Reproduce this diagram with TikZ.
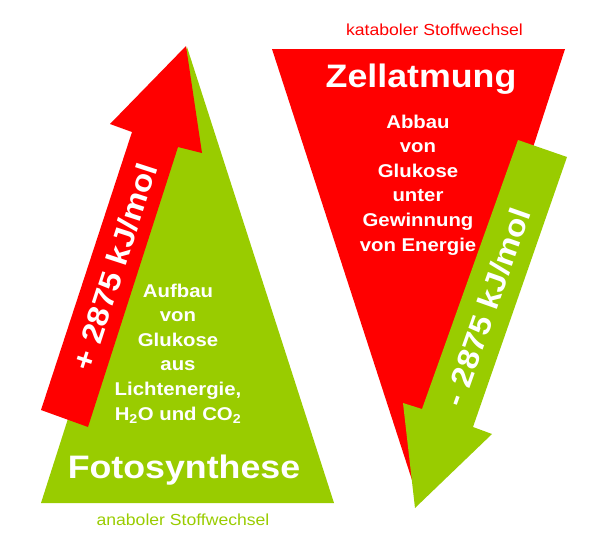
\documentclass[tikz,border=0pt]{standalone}
\usepackage{fontspec}
\setmainfont[FakeStretch=1.1]{Liberation Sans}
\definecolor{myred}{RGB}{255,0,0}
\definecolor{mygreen}{RGB}{153,204,0}
\begin{document}
\begin{tikzpicture}[x=1pt,y=-1pt,
  body/.style={inner sep=0pt,align=center,text=white,font=\fontsize{18.5}{24.6}\selectfont\bfseries},
  title/.style={inner sep=0pt,anchor=base,text=white,font=\fontsize{32.5}{36}\selectfont\bfseries},
  kind/.style={inner sep=0pt,anchor=base,font=\fontsize{16}{18}\selectfont},
  energy/.style={inner sep=0pt,text=white,font=\fontsize{30}{32}\selectfont\bfseries}]
\useasboundingbox (0,0) rectangle (590,542);
% triangles
\fill[mygreen] (41,503) -- (187,47) -- (334,503) -- cycle;
\fill[myred] (272,49) -- (565,49) -- (418.5,500) -- cycle;
% red up arrow
\fill[myred] (41,410) -- (132,132) -- (110,124) -- (186,46) -- (202,153) -- (178,147) -- (88,427) -- cycle;
% green down arrow
\fill[mygreen] (518,140) -- (567,157) -- (473,427) -- (492,434) -- (415,508) -- (403,403) -- (422,409) -- cycle;
% texts
\node[title] (foto) at (184,478) {Fotosynthese};
\node[title] (zell) at (421,87) {Zellatmung};
\node[kind,text=mygreen] (ana) at (183,525) {anaboler Stoffwechsel};
\node[kind,text=myred] (kata) at (434.5,35) {kataboler Stoffwechsel};
\node[body,anchor=north] (aufbau) at (178,283.5) {Aufbau\\von\\Glukose\\aus\\Lichtenergie,\\H\textsubscript{2}O und CO\textsubscript{2}};
\node[body,anchor=north] (abbau) at (418,114.5) {Abbau\\von\\Glukose\\unter\\Gewinnung\\von Energie};
\node[energy,rotate=72] (plus) at (114.5,267) {+ 2875 kJ/mol};
\node[energy,rotate=70.5] (minus) at (487,307) {- 2875 kJ/mol};
\end{tikzpicture}
\end{document}
